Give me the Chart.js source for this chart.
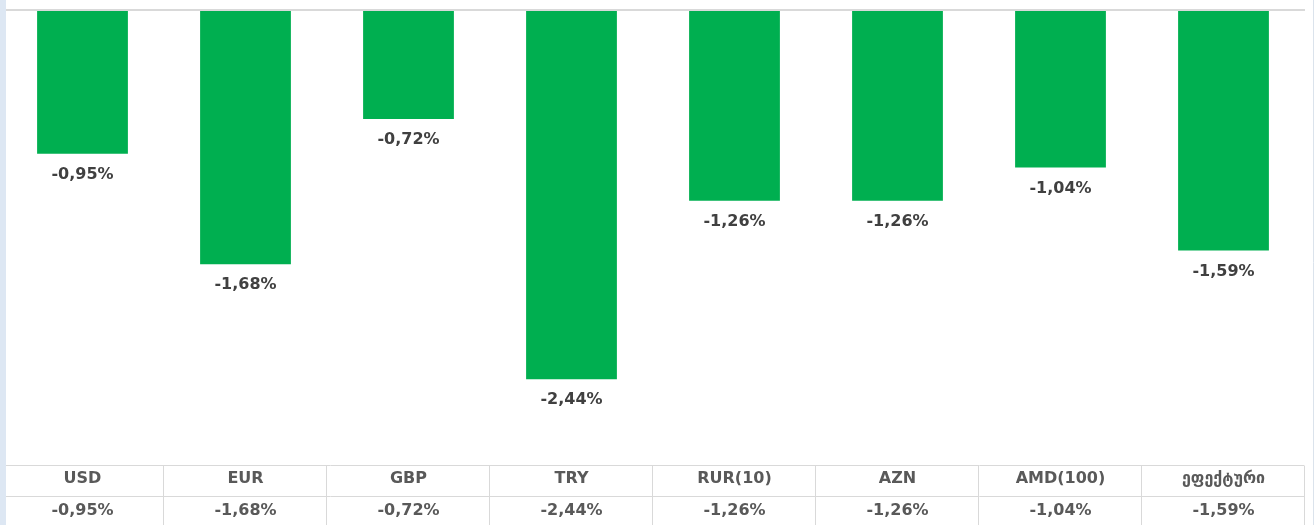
<!DOCTYPE html>
<html><head><meta charset="utf-8">
<script src="https://cdn.jsdelivr.net/npm/chart.js@4/dist/chart.umd.min.js"></script>
<style>html,body{margin:0;padding:0;background:#fff;}#wrap{width:1316px;height:525px;position:relative;}</style>
</head><body><div id="wrap"><canvas id="c" width="1316" height="525"></canvas></div>
<script>
const categories = ["USD","EUR","GBP","TRY","RUR(10)","AZN","AMD(100)","ეფექტური"];
const values = [-0.95,-1.68,-0.72,-2.44,-1.26,-1.26,-1.04,-1.59];
const fmt = v => v.toFixed(2).replace('.', ',') + '%';
const FONT = '"DejaVu Sans", "Open Sans", sans-serif';

const tablePlugin = {
  id: 'tablePlugin',
  afterDraw(chart) {
    const ctx = chart.ctx, x = chart.scales.x, y = chart.scales.y;
    ctx.save();
    // left strip
    ctx.fillStyle = '#dde7f3';
    ctx.fillRect(0, 0, 6, 525);
    // zero line
    const y0 = y.getPixelForValue(0);
    ctx.strokeStyle = '#d9d9d9'; ctx.lineWidth = 2;
    ctx.beginPath(); ctx.moveTo(6, y0); ctx.lineTo(1305, y0); ctx.stroke();
    // right frame line
    ctx.strokeStyle = '#dbe3ec'; ctx.lineWidth = 1;
    ctx.beginPath(); ctx.moveTo(1313.5, 0); ctx.lineTo(1313.5, 525); ctx.stroke();
    // data labels
    ctx.fillStyle = '#404040';
    ctx.font = 'bold 16px ' + FONT;
    ctx.textAlign = 'center'; ctx.textBaseline = 'middle';
    const meta = chart.getDatasetMeta(0);
    meta.data.forEach((bar, i) => {
      ctx.fillText(fmt(values[i]), bar.x, bar.y + 21);
    });
    // table
    const top = 465.5, mid = 496.5, bottom = 525;
    const step = 163;
    ctx.strokeStyle = '#d9d9d9'; ctx.lineWidth = 1;
    ctx.beginPath();
    ctx.moveTo(6, top); ctx.lineTo(1304, top);
    ctx.moveTo(6, mid); ctx.lineTo(1304, mid);
    for (let i = 1; i <= categories.length; i++) {
      const xx = i * step + 0.5;
      ctx.moveTo(xx, top); ctx.lineTo(xx, bottom);
    }
    ctx.stroke();
    ctx.fillStyle = '#595959';
    categories.forEach((c, i) => {
      const cx = x.getPixelForValue(i);
      ctx.font = 'bold 16px ' + FONT;
      ctx.fillText(c, cx, 479);
      ctx.fillText(fmt(values[i]), cx, 510.5);
    });
    ctx.restore();
  }
};

new Chart(document.getElementById('c'), {
  type: 'bar',
  data: { labels: categories, datasets: [{ data: values, backgroundColor: '#00af50', borderWidth: 0, barPercentage: 0.557, categoryPercentage: 1.0 }] },
  options: {
    responsive: false, animation: false,
    layout: { padding: { left: 1, right: 11, top: 10, bottom: 61 } },
    plugins: { legend: { display: false }, tooltip: { enabled: false } },
    scales: {
      x: { display: false },
      y: { display: false, min: -3, max: 0 }
    }
  },
  plugins: [tablePlugin]
});
</script></body></html>
